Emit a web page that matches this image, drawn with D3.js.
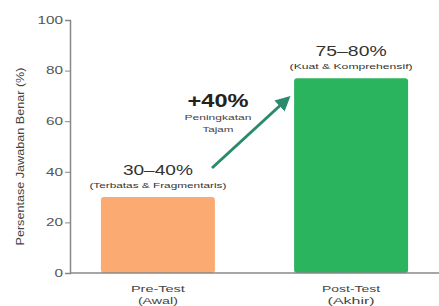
<!DOCTYPE html>
<html>
<head>
<meta charset="utf-8">
<script src="https://cdn.jsdelivr.net/npm/d3@7"></script>
<style>
  body { margin: 0; background: #fff; }
  svg { display: block; font-family: "Liberation Sans", Arial, sans-serif; }
</style>
</head>
<body>
<div id="chart"></div>
<script>
const width = 439;
const height = 306;

const categories = ['Pre-Test', 'Post-Test'];
const subCategories = ['(Awal)', '(Akhir)'];
const values = [30, 77];
const rangeLabels = ['30–40%', '75–80%'];
const noteLabels = ['(Terbatas & Fragmentaris)', '(Kuat & Komprehensif)'];
const colors = ['#fbab72', '#2bb45e'];
const yTicks = [0, 20, 40, 60, 80, 100];

const margin = {top: 20, right: 0, bottom: 33, left: 70};

const svg = d3.select('#chart').append('svg')
  .attr('width', width)
  .attr('height', height);

// the picture's lettering is wide, so stretch each text to its measured width
function label(g, text, x, y, size, w, opts = {}) {
  return g.append('text')
    .attr('x', x)
    .attr('y', y)
    .attr('text-anchor', 'middle')
    .attr('font-size', size)
    .attr('font-weight', opts.weight || 'normal')
    .attr('fill', opts.fill || '#333')
    .attr('textLength', w)
    .attr('lengthAdjust', 'spacingAndGlyphs')
    .text(text);
}

const x = d3.scaleBand()
  .domain(categories)
  .range([margin.left, width - margin.right])
  .paddingInner(0.41)
  .paddingOuter(0.16);

const y = d3.scaleLinear()
  .domain([0, 100])
  .range([height - margin.bottom, margin.top]);

// bars
svg.append('g')
  .selectAll('rect')
  .data(values)
  .join('rect')
  .attr('x', (d, i)=>x(categories[i]))
  .attr('y', (d)=>y(d))
  .attr('width', x.bandwidth())
  .attr('height', (d)=>y(0) - y(d))
  .attr('rx', 3)
  .attr('fill', (d, i)=>colors[i]);

// y axis
const yAxis = svg.append('g')
  .attr('transform', `translate(${margin.left},0)`)
  .call(d3.axisLeft(y).tickValues(yTicks).tickSize(5).tickPadding(2));
yAxis.select('.domain').attr('stroke', '#888').attr('stroke-width', 1.5);
yAxis.selectAll('.tick line').attr('stroke', '#888');
yAxis.selectAll('.tick text')
  .attr('fill', '#555')
  .attr('font-size', 10)
  .attr('font-family', '"Liberation Sans", Arial, sans-serif')
  .attr('textLength', (d)=>String(d).length * 8.5)
  .attr('lengthAdjust', 'spacingAndGlyphs');

// x baseline
svg.append('line')
  .attr('x1', margin.left)
  .attr('x2', width)
  .attr('y1', y(0))
  .attr('y2', y(0))
  .attr('stroke', '#888')
  .attr('stroke-width', 1.5);

// x labels
const xg = svg.append('g');
const catW = [54, 58];
const subW = [40, 47];
categories.forEach((c, i)=>{
  const cx = x(c) + x.bandwidth() / 2;
  label(xg, c, cx, y(0) + 19, 9.5, catW[i], {fill: '#444'});
  label(xg, subCategories[i], cx, y(0) + 31, 9.5, subW[i], {fill: '#444'});
});

// y title
svg.append('text')
  .attr('transform', `translate(24,${(y(0) + y(100)) / 2 + 10}) rotate(-90)`)
  .attr('text-anchor', 'middle')
  .attr('font-size', 10)
  .attr('fill', '#444')
  .attr('textLength', 178)
  .attr('lengthAdjust', 'spacingAndGlyphs')
  .text('Persentase Jawaban Benar (%)');

// value labels above bars
const vg = svg.append('g');
const rangeW = [70, 71];
const noteW = [137, 123];
values.forEach((v, i)=>{
  const cx = x(categories[i]) + x.bandwidth() / 2;
  label(vg, rangeLabels[i], cx, y(v) - 22, 15.5, rangeW[i]);
  label(vg, noteLabels[i], cx, y(v) - 9, 8, noteW[i]);
});

// arrow
svg.append('defs').append('marker')
  .attr('id', 'head')
  .attr('viewBox', '0 0 10 10')
  .attr('refX', 5)
  .attr('refY', 5)
  .attr('markerWidth', 5)
  .attr('markerHeight', 5)
  .attr('orient', 'auto')
  .append('path')
  .attr('d', 'M0,0 L10,5 L0,10 Z')
  .attr('fill', '#2b8a6c');

svg.append('line')
  .attr('x1', 212)
  .attr('y1', 168)
  .attr('x2', 285)
  .attr('y2', 101)
  .attr('stroke', '#2b8a6c')
  .attr('stroke-width', 3)
  .attr('marker-end', 'url(#head)');

// +40% annotation
const ag = svg.append('g');
label(ag, '+40%', 218, 107, 18, 61, {weight: 'bold', fill: '#222'});
label(ag, 'Peningkatan', 218, 120, 8, 67, {fill: '#444'});
label(ag, 'Tajam', 218, 132, 8, 31, {fill: '#444'});
</script>
</body>
</html>
